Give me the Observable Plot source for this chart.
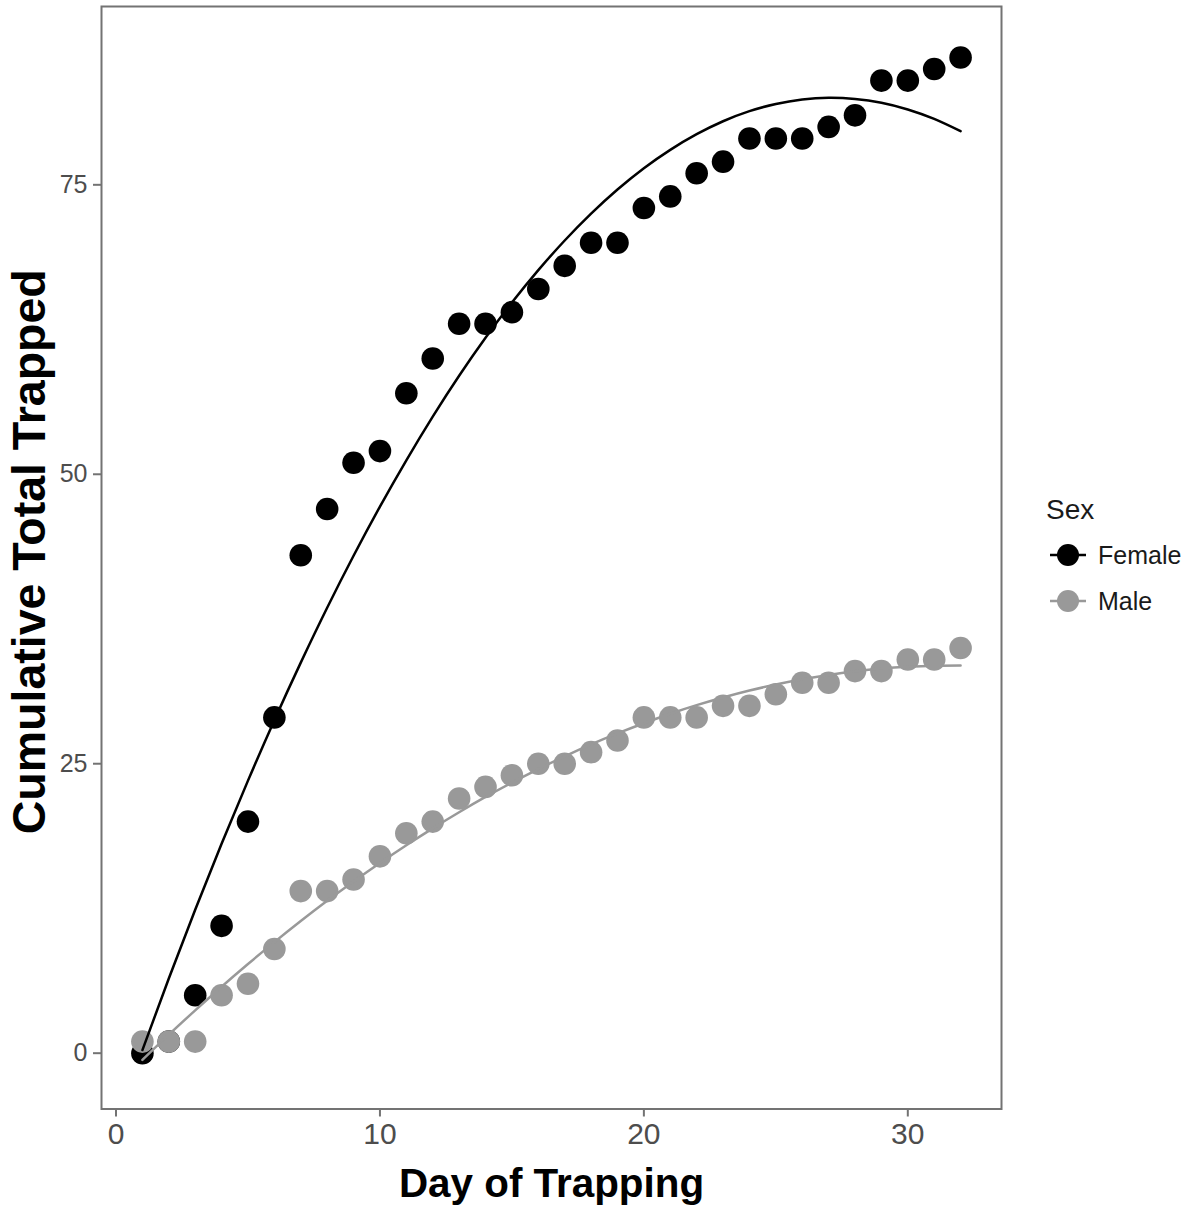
<!DOCTYPE html>
<html>
<head>
<meta charset="utf-8">
<script src="https://cdn.jsdelivr.net/npm/d3@7"></script>
<script src="https://cdn.jsdelivr.net/npm/@observablehq/plot@0.6"></script>
<style>
  html, body { margin: 0; padding: 0; background: #fff; }
  #wrap { position: relative; width: 1188px; height: 1206px; font-family: "Liberation Sans", Arial, sans-serif; }
  #legend { position: absolute; left: 1040px; top: 494px; }
</style>
</head>
<body>
<div id="wrap">
  <div id="chart"></div>
  <div id="legend"></div>
</div>
<script>
const days = [1,2,3,4,5,6,7,8,9,10,11,12,13,14,15,16,17,18,19,20,21,22,23,24,25,26,27,28,29,30,31,32];
const female = [0,1,5,11,20,29,43,47,51,52,57,60,63,63,64,66,68,70,70,73,74,76,77,79,79,79,80,81,84,84,85,86];
const male = [1,1,1,5,6,9,14,14,15,17,19,20,22,23,24,25,25,26,27,29,29,29,30,30,31,32,32,33,33,34,34,35];
const femaleFit = [0.27,6.45,12.39,18.09,23.54,28.76,33.73,38.47,42.96,47.21,51.21,54.98,58.51,61.79,64.83,67.63,70.19,72.51,74.59,76.43,78.02,79.37,80.49,81.36,81.98,82.37,82.52,82.42,82.09,81.51,80.69,79.63];
const maleFit = [-0.58,1.60,3.70,5.74,7.70,9.59,11.41,13.16,14.83,16.43,17.96,19.42,20.81,22.13,23.37,24.54,25.64,26.67,27.62,28.50,29.32,30.06,30.72,31.32,31.84,32.29,32.67,32.98,33.22,33.38,33.47,33.49];
const sexes = ["Female", "Male"];
const colors = ["#000000", "#999999"];
const xTicks = [0, 10, 20, 30];
const yTicks = [0, 25, 50, 75];

const rows = [];
sexes.forEach((s, j) => days.forEach((d, i) => rows.push({day: d, total: (j ? male : female)[i], sex: s})));
const fitRows = [];
sexes.forEach((s, j) => days.forEach((d, i) => fitRows.push({day: d, total: (j ? maleFit : femaleFit)[i], sex: s})));

const chart = Plot.plot({
  width: 1188, height: 1206,
  marginLeft: 101, marginRight: 187, marginTop: 6, marginBottom: 97.5,
  style: {fontFamily: "'Liberation Sans', Arial, sans-serif", background: "#fff"},
  x: {domain: [-0.55, 33.55]},
  y: {domain: [-4.82, 90.4]},
  color: {domain: sexes, range: colors},
  marks: [
    Plot.axisX({ticks: xTicks, tickSize: 8, tickPadding: 6, fontSize: 30, fill: "#4d4d4d", stroke: "#737373", strokeWidth: 2, label: null}),
    Plot.axisY({ticks: yTicks, tickSize: 8, tickPadding: 6, fontSize: 25, fill: "#4d4d4d", stroke: "#737373", strokeWidth: 2, label: null}),
    Plot.dot(rows, {x: "day", y: "total", fill: "sex", r: 11.3}),
    Plot.line(fitRows, {x: "day", y: "total", z: "sex", stroke: "sex", strokeWidth: 2.5, curve: "natural"}),
    Plot.frame({stroke: "#737373", strokeWidth: 2}),
    Plot.text(["Day of Trapping"], {frameAnchor: "bottom", dy: 75, lineAnchor: "middle", textAnchor: "middle", fontSize: 40.4, fontWeight: "bold", fill: "#000"}),
    Plot.text(["Cumulative Total Trapped"], {frameAnchor: "left", dx: -71, dy: -6, rotate: -90, lineAnchor: "middle", textAnchor: "middle", fontSize: 46.5, fontWeight: "bold", fill: "#000"})
  ]
});
document.getElementById("chart").appendChild(chart);

const lg = d3.select("#legend");
lg.append("div").text("Sex").style("font-size", "28px").style("color", "#1a1a1a").style("margin", "0 0 6px 6px");
sexes.forEach((s, i) => {
  const row = lg.append("div").style("display", "flex").style("align-items", "center").style("height", "46px");
  const svg = row.append("svg").attr("width", 48).attr("height", 46);
  svg.append("line").attr("x1", 10).attr("x2", 46).attr("y1", 23).attr("y2", 23).attr("stroke", colors[i]).attr("stroke-width", 2.5);
  svg.append("circle").attr("cx", 28).attr("cy", 23).attr("r", 11).attr("fill", colors[i]);
  row.append("span").text(s).style("font-size", "25px").style("color", "#1a1a1a").style("margin-left", "10px");
});
</script>
</body>
</html>
